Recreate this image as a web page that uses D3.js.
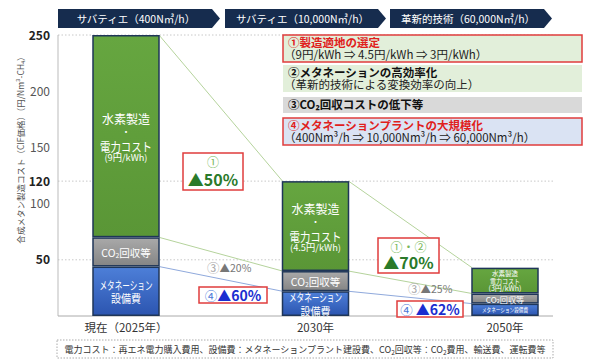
<!DOCTYPE html>
<html>
<head>
<meta charset="utf-8">
<script src="https://cdn.jsdelivr.net/npm/d3@7"></script>
<style>
  body { margin: 0; background: #fff; }
  svg { font-family: "Noto Sans CJK JP", "Noto Sans", sans-serif; }
</style>
</head>
<body>
<svg id="chart" width="590" height="363"></svg>
<script>
// データ
const years = ["現在（2025年）", "2030年", "2050年"];
const equipment = [44, 22, 11];   // メタネーション設備費
const co2Cost = [26, 18, 9];      // CO2回収等
const hydrogen = [180, 80, 23];   // 水素製造・電力コスト
const powerPrice = ["(9円/kWh)", "(4.5円/kWh)", "(3円/kWh)"];
const yTicks = [250, 200, 150, 120, 100, 50];
const boldTicks = [250, 120, 50];
const stages = ["サバティエ（400N㎥/h）", "サバティエ（10,000N㎥/h）", "革新的技術（60,000N㎥/h）"];
const reductions = [
  {top: "①", main: "▲50%", co2: "▲20%", eq: "▲60%"},
  {top: "①・②", main: "▲70%", co2: "▲25%", eq: "▲62%"}
];

const svg = d3.select('#chart');
const width = 590, height = 363;
const padding = {top: 35, right: 37, bottom: 47, left: 58};
const barW = 66;

const table = years.map((y, i) => ({year: y, eq: equipment[i], co2: co2Cost[i], h2: hydrogen[i]}));
const series = d3.stack().keys(['eq', 'co2', 'h2'])(table);

const xScale = d3.scalePoint()
    .domain(years)
    .range([126, 505]);
const yScale = d3.scaleLinear()
    .domain([0, 250])
    .range([height - padding.bottom, padding.top]);

// グラデーション
const defs = svg.append('defs');
function grad(id, c1, c2){
  const g = defs.append('linearGradient').attr('id', id).attr('x1', 0).attr('x2', 0).attr('y1', 0).attr('y2', 1);
  g.append('stop').attr('offset', '0%').attr('stop-color', c1);
  g.append('stop').attr('offset', '100%').attr('stop-color', c2);
}
grad('gH2', '#66a640', '#5a9636');
grad('gCO2', '#a9a9a9', '#858585');
grad('gEQ', '#4d7fd8', '#2c55b0');
const fills = {eq: 'url(#gEQ)', co2: 'url(#gCO2)', h2: 'url(#gH2)'};

// 上部の帯
const bannerPos = [[58, 212, 220], [225, 378, 386], [390, 544, 552]];
bannerPos.forEach((p, i) => {
  const [x0, x1, x2] = p, y0 = 9, y1 = 28;
  svg.append('path')
     .attr('d', `M${x0},${y0}L${x1},${y0}L${x2},${(y0+y1)/2}L${x1},${y1}L${x0},${y1}Z`)
     .attr('fill', '#162c4e');
  svg.append('text')
     .attr('x', (x0 + x2) / 2 - 3).attr('y', 22.5)
     .attr('text-anchor', 'middle').attr('fill', '#fff')
     .attr('font-size', 10.5)
     .text(stages[i]);
});

// Y軸タイトル
svg.append('text')
   .attr('transform', `translate(24, 148) rotate(-90)`)
   .attr('text-anchor', 'middle')
   .attr('fill', '#555').attr('font-size', 8.5)
   .text('合成メタン製造コスト（CIF価格）（円/Nm³-CH₄）');

// 目盛り
svg.append('g').selectAll('text')
   .data(yTicks).enter().append('text')
   .attr('x', 50).attr('y', d => yScale(d) + 4.5)
   .attr('text-anchor', 'end')
   .attr('font-size', 12)
   .attr('font-weight', d => boldTicks.includes(d) ? 'bold' : 'normal')
   .attr('fill', d => boldTicks.includes(d) ? '#222' : '#555')
   .text(d => d);

svg.append('g').selectAll('line')
   .data(boldTicks).enter().append('line')
   .attr('x1', padding.left).attr('x2', width - padding.right)
   .attr('y1', d => yScale(d)).attr('y2', d => yScale(d))
   .attr('stroke', '#c8c8c8').attr('stroke-dasharray', '1.5,2');

svg.append('line')
   .attr('x1', padding.left).attr('x2', padding.left)
   .attr('y1', yScale(250)).attr('y2', yScale(0))
   .attr('stroke', '#bbb');
svg.append('line')
   .attr('x1', padding.left).attr('x2', width - padding.right)
   .attr('y1', yScale(0)).attr('y2', yScale(0))
   .attr('stroke', '#aaa');

// 右側の説明ボックス
const notes = [
  {y: 35, h: 27, fill: '#e2efda', border: '#e03c3c', title: '①製造適地の選定', tc: '#e0201c', sub: '（9円/kWh ⇒ 4.5円/kWh ⇒ 3円/kWh）'},
  {y: 65, h: 27, fill: '#e2efda', border: null, title: '②メタネーションの高効率化', tc: '#111', sub: '（革新的技術による変換効率の向上）'},
  {y: 97, h: 16, fill: '#d9d9d9', border: null, title: '③CO₂回収コストの低下等', tc: '#111', sub: null},
  {y: 118, h: 27, fill: '#dae3f3', border: '#e03c3c', title: '④メタネーションプラントの大規模化', tc: '#e0201c', sub: '（400Nm³/h ⇒ 10,000Nm³/h ⇒ 60,000Nm³/h）'}
];
notes.forEach(n => {
  svg.append('rect')
     .attr('x', 283).attr('y', n.y).attr('width', 299).attr('height', n.h)
     .attr('fill', n.fill)
     .attr('stroke', n.border || 'none').attr('stroke-width', 1.5);
  svg.append('text')
     .attr('x', 288).attr('y', n.y + 12)
     .attr('font-size', 11.5).attr('font-weight', 'bold').attr('fill', n.tc)
     .text(n.title);
  if (n.sub) {
    svg.append('text')
       .attr('x', 284).attr('y', n.y + 24)
       .attr('font-size', 11.5).attr('fill', '#222')
       .text(n.sub);
  }
});

// 棒の間の連結線
const levels = [
  {vals: table.map(d => d.eq), color: '#8fa9dc'},
  {vals: table.map(d => d.eq + d.co2), color: '#b5d39c'},
  {vals: table.map(d => d.eq + d.co2 + d.h2), color: '#b5d39c'}
];
levels.forEach(l => {
  for (let i = 0; i < years.length - 1; i++) {
    svg.append('line')
       .attr('x1', xScale(years[i]) + barW / 2).attr('y1', yScale(l.vals[i]))
       .attr('x2', xScale(years[i + 1]) - barW / 2).attr('y2', yScale(l.vals[i + 1]))
       .attr('stroke', l.color).attr('stroke-width', 1);
  }
});

// 積み上げ棒
const bars = svg.append('g');
bars.selectAll('g')
    .data(series).enter().append('g')
    .attr('fill', d => fills[d.key])
    .selectAll('rect')
    .data(d => d).enter().append('rect')
    .attr('x', d => xScale(d.data.year) - barW / 2)
    .attr('y', d => yScale(d[1]) + 0.75)
    .attr('width', barW)
    .attr('height', d => yScale(d[0]) - yScale(d[1]) - 1.5)
    .attr('stroke', '#1f3658').attr('stroke-width', 1.5);

// 棒内のラベル（文字幅は textLength で元の細めのフォントに合わせる）
function co2Label(g, x, y, size) {
  const t = g.append('text').attr('x', x).attr('y', y)
     .attr('text-anchor', 'middle').attr('dominant-baseline', 'central')
     .attr('fill', '#fff').attr('font-size', size);
  t.append('tspan').text('CO');
  t.append('tspan').attr('font-size', size * 0.65).attr('dy', size * 0.25).text('2');
  t.append('tspan').attr('dy', -size * 0.25).text('回収等');
}
const labels = svg.append('g');
table.forEach((d, i) => {
  const cx = xScale(d.year);
  const h2Mid = (yScale(d.eq + d.co2 + d.h2) + yScale(d.eq + d.co2)) / 2;
  const co2Mid = (yScale(d.eq) + yScale(d.eq + d.co2)) / 2;
  const eqMid = (yScale(0) + yScale(d.eq)) / 2;
  const txt = (y, s, size, len) => {
    const t = labels.append('text').attr('x', cx).attr('y', y)
       .attr('text-anchor', 'middle').attr('dominant-baseline', 'central')
       .attr('fill', '#fff').attr('font-size', size).text(s);
    if (len) t.attr('textLength', len).attr('lengthAdjust', 'spacingAndGlyphs');
  };
  if (i < 2) {
    txt(h2Mid - 18, '水素製造', 12.5, 48);
    txt(h2Mid - 4.5, '・', 9);
    txt(h2Mid + 10, '電力コスト', 12.5, 52);
    txt(h2Mid + 21.5, powerPrice[i], 9, i === 0 ? 43 : 51);
    co2Label(labels, cx, co2Mid, 10.5);
    txt(eqMid - 6.5, 'メタネーション', 11.5, 53);
    txt(eqMid + 7, '設備費', 11.5, 30);
  } else {
    txt(h2Mid - 7.5, '水素製造', 7, 26);
    txt(h2Mid, '電力コスト', 7, 30);
    txt(h2Mid + 7.5, powerPrice[i], 7, 33);
    co2Label(labels, cx, co2Mid, 8.2);
    txt(eqMid, 'メタネーション設備費', 6, 46);
  }
});

// 削減率の注記
const annos = svg.append('g');
const boxPos = [
  {main: [183, 153, 60, 37], co2: [207, 267], eq: [199, 287, 68, 16]},
  {main: [378, 238, 61, 35], co2: [408, 288], eq: [397, 301, 66, 16]}
];
reductions.forEach((r, i) => {
  const b = boxPos[i];
  annos.append('rect')
     .attr('x', b.main[0]).attr('y', b.main[1]).attr('width', b.main[2]).attr('height', b.main[3])
     .attr('fill', '#fff').attr('stroke', '#e03c3c').attr('stroke-width', 1.5);
  annos.append('text')
     .attr('x', b.main[0] + b.main[2] / 2).attr('y', b.main[1] + 14)
     .attr('text-anchor', 'middle').attr('fill', '#78b85a').attr('font-size', 12)
     .text(r.top);
  annos.append('text')
     .attr('x', b.main[0] + b.main[2] / 2).attr('y', b.main[1] + b.main[3] - 4)
     .attr('text-anchor', 'middle').attr('fill', '#2a7a2a').attr('font-size', 16).attr('font-weight', 'bold')
     .text(r.main);
  const c = annos.append('text').attr('x', b.co2[0]).attr('y', b.co2[1]).attr('dominant-baseline', 'central');
  c.append('tspan').attr('font-size', 12.5).attr('fill', '#aaa').text('③');
  c.append('tspan').attr('font-size', 10.5).attr('fill', '#777').text(r.co2);
  annos.append('rect')
     .attr('x', b.eq[0]).attr('y', b.eq[1]).attr('width', b.eq[2]).attr('height', b.eq[3])
     .attr('fill', '#fff').attr('stroke', '#e03c3c').attr('stroke-width', 1.5);
  const e = annos.append('text').attr('x', b.eq[0] + b.eq[2] / 2).attr('y', b.eq[1] + b.eq[3] / 2)
     .attr('text-anchor', 'middle').attr('dominant-baseline', 'central');
  e.append('tspan').attr('font-size', 12.5).attr('fill', '#4a78d8').text(i === 0 ? '④' : '④ ');
  e.append('tspan').attr('font-size', 14).attr('font-weight', 'bold').attr('fill', '#1a2ed0').text(r.eq);
});

// X軸ラベル
svg.append('g').selectAll('text')
   .data(years).enter().append('text')
   .attr('x', d => xScale(d)).attr('y', 332)
   .attr('text-anchor', 'middle').attr('font-size', 11.5).attr('fill', '#333')
   .text(d => d);

// 注釈
svg.append('rect')
   .attr('x', 57).attr('y', 340).attr('width', 496).attr('height', 18)
   .attr('fill', '#fff').attr('stroke', '#aaa').attr('stroke-dasharray', '1.5,1.5');
const foot = svg.append('text').attr('x', 305).attr('y', 353)
   .attr('text-anchor', 'middle').attr('font-size', 9).attr('fill', '#333');
foot.append('tspan').text('電力コスト：再エネ電力購入費用、設備費：メタネーションプラント建設費、CO');
foot.append('tspan').attr('font-size', 6.5).attr('dy', 2).text('2');
foot.append('tspan').attr('dy', -2).text('回収等：CO');
foot.append('tspan').attr('font-size', 6.5).attr('dy', 2).text('2');
foot.append('tspan').attr('dy', -2).text('費用、輸送費、運転費等');
</script>
</body>
</html>
